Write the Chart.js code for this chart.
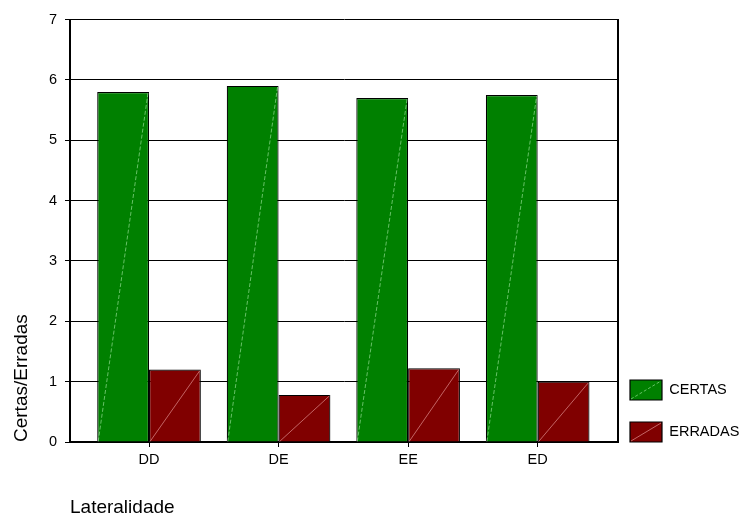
<!DOCTYPE html>
<html>
<head>
<meta charset="utf-8">
<script src="https://cdn.jsdelivr.net/npm/chart.js@4/dist/chart.umd.min.js"></script>
<style>
  html, body { margin: 0; padding: 0; background: #fff; }
  #wrap { width: 743px; height: 513px; position: relative; }
</style>
</head>
<body>
<div id="wrap"><canvas id="c" width="743" height="513"></canvas></div>
<script>
// ---- data ----
const categories = ['DD', 'DE', 'EE', 'ED'];
const certas = [5.8, 5.9, 5.7, 5.75];
const erradas = [1.2, 0.78, 1.22, 1.0];
const yTicks = [0, 1, 2, 3, 4, 5, 6, 7];
const seriesNames = ['CERTAS', 'ERRADAS'];
const xTitle = 'Lateralidade';
const yTitle = 'Certas/Erradas';

const FONT = "'Liberation Sans', Arial, Helvetica, sans-serif";
Chart.defaults.font.family = FONT;
Chart.defaults.color = '#000';

const toPoints = arr => arr.map((v, i) => ({ x: i, y: v }));

// diagonal highlight lines inside bars (as in the reference)
const diagonals = {
  id: 'diagonals',
  afterDatasetsDraw(chart) {
    const ctx = chart.ctx;
    const cols = ['rgba(160,230,160,0.8)', 'rgba(220,140,140,0.9)'];
    chart.data.datasets.forEach((ds, di) => {
      const meta = chart.getDatasetMeta(di);
      meta.data.forEach(bar => {
        const p = bar.getProps(['x', 'y', 'base', 'width'], true);
        ctx.save();
        ctx.strokeStyle = cols[di];
        ctx.lineWidth = 0.8;
        if (di === 0) ctx.setLineDash([4, 2]);
        ctx.beginPath();
        ctx.moveTo(p.x - p.width / 2 + 1, p.base);
        ctx.lineTo(p.x + p.width / 2 - 1, p.y + 1);
        ctx.stroke();
        ctx.restore();
      });
    });
  }
};

// legend placement: fixed reserved width, shifted drawing
const LEGEND_W = 125, SHIFT_X = 10, SHIFT_Y = 22;
const legendPlace = {
  id: 'legendPlace',
  afterInit(chart) {
    const lg = chart.legend;
    const orig = lg.fit;
    lg.fit = function () { orig.call(this); this.width = LEGEND_W; };
  },
  afterLayout(chart) {
    const lg = chart.legend;
    lg.left -= SHIFT_X;
    lg.top += SHIFT_Y; lg.bottom += SHIFT_Y;
  },
  afterDraw(chart) {
    const lg = chart.legend;
    const pad = lg.options.labels.padding;
    const bw = lg.options.labels.boxWidth, bh = lg.options.labels.boxHeight;
    const n = lg.legendItems.length;
    const cols = ['rgba(160,230,160,0.8)', 'rgba(220,140,140,0.9)'];
    const ctx = chart.ctx;
    const x0 = lg.left + pad;
    const colH = n * (bh + pad);
    for (let i = 0; i < n; i++) {
      const y0 = lg.bottom - colH + i * (bh + pad);
      ctx.save();
      ctx.strokeStyle = cols[i];
      ctx.lineWidth = 0.8;
      if (i === 0) ctx.setLineDash([3, 2]);
      ctx.beginPath();
      ctx.moveTo(x0 + 1, y0 + bh - 1);
      ctx.lineTo(x0 + bw - 1, y0 + 1);
      ctx.stroke();
      ctx.restore();
    }
  }
};

new Chart(document.getElementById('c'), {
  type: 'bar',
  data: {
    datasets: [
      { label: seriesNames[0], data: toPoints(certas), backgroundColor: '#008000', borderColor: '#000', borderWidth: 1.2 },
      { label: seriesNames[1], data: toPoints(erradas), backgroundColor: '#800000', borderColor: '#000', borderWidth: 1.2 }
    ]
  },
  options: {
    responsive: false,
    animation: false,
    layout: { padding: { top: 19.5, left: 0, right: 0, bottom: 0 } },
    datasets: { bar: { categoryPercentage: 0.8, barPercentage: 1.0 } },
    plugins: {
      tooltip: { enabled: false },
      legend: {
        position: 'right',
        align: 'end',
        fullSize: false,
        labels: {
          boxWidth: 32,
          boxHeight: 20,
          padding: 22,
          font: { size: 14.5 },
          color: '#000'
        }
      }
    },
    scales: {
      x: {
        type: 'linear',
        bounds: 'data',
        offset: false,
        min: -0.61,
        max: 3.62,
        afterFit(s) { s.height = 71; },
        afterBuildTicks(s) { s.ticks = categories.map((c, i) => ({ value: i })); },
        ticks: {
          includeBounds: false,
          stepSize: 1,
          padding: 4,
          font: { size: 14.5 },
          color: '#000',
          callback: v => categories[v]
        },
        grid: { display: true, offset: false, drawOnChartArea: false, drawTicks: true, tickLength: 5, color: '#000', lineWidth: 1 },
        border: { display: true, color: '#000', width: 2 },
        title: {
          display: true,
          text: xTitle,
          align: 'start',
          color: '#000',
          font: { size: 19, lineHeight: 1 },
          padding: { top: 0, bottom: -4.5 }
        }
      },
      y: {
        min: 0,
        max: 7,
        afterFit(s) { s.width = 70; },
        afterBuildTicks(s) { s.ticks = yTicks.map(v => ({ value: v })); },
        ticks: { stepSize: 1, padding: 8, font: { size: 14.5 }, color: '#000' },
        grid: { color: '#000', lineWidth: 1, tickLength: 5 },
        border: { display: true, color: '#000', width: 2 },
        title: {
          display: true,
          text: yTitle,
          align: 'start',
          color: '#000',
          font: { size: 19 },
          padding: { top: 10, bottom: 0 }
        }
      },
      y2: {
        position: 'right',
        min: 0,
        max: 7,
        ticks: { display: false },
        grid: { drawOnChartArea: false, drawTicks: false },
        border: { display: true, color: '#000', width: 2 }
      }
    }
  },
  plugins: [diagonals, legendPlace]
});
</script>
</body>
</html>
